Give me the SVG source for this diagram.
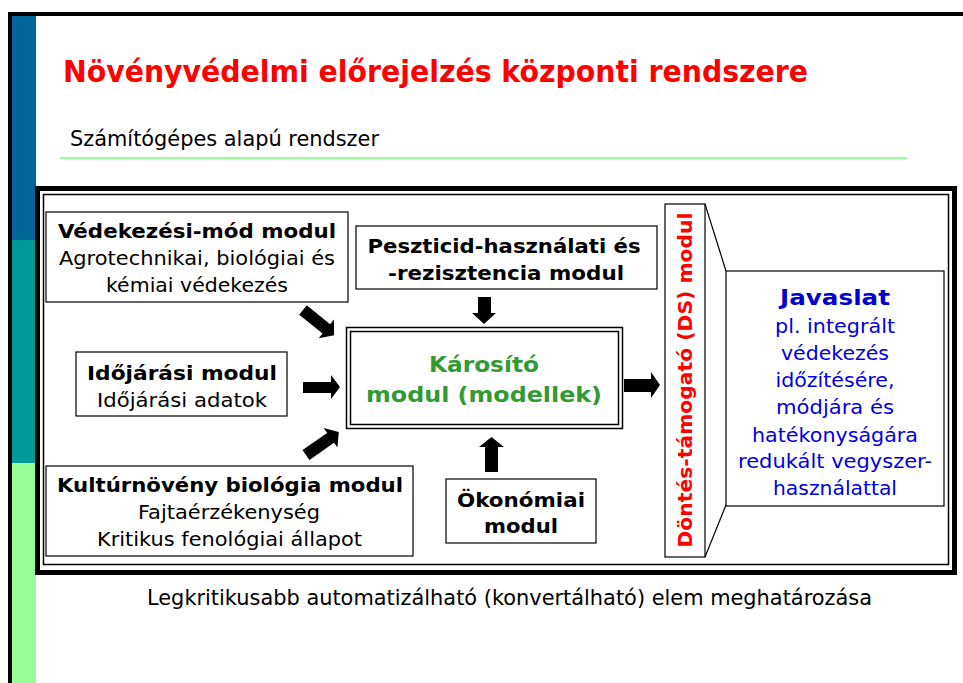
<svg xmlns="http://www.w3.org/2000/svg" width="963" height="683" viewBox="0 0 963 683">
<style>
text{font-family:"DejaVu Sans","Verdana",sans-serif;}
.b{font-weight:bold;}
.bx{fill:#fff;stroke:#000;stroke-width:1.2;}
.t{font-size:19px;fill:#000;text-anchor:middle;}
.jv{font-size:19px;fill:#0000DD;text-anchor:middle;}
.ar{fill:#000;}
</style>
<rect x="0" y="0" width="963" height="683" fill="#fff"/>
<!-- slide frame -->
<rect x="8" y="12" width="955" height="4" fill="#000"/>
<rect x="8" y="12" width="4" height="671" fill="#000"/>
<rect x="12" y="16" width="24" height="224" fill="#006699"/>
<rect x="12" y="240" width="24" height="223" fill="#009999"/>
<rect x="12" y="463" width="24" height="220" fill="#99FF99"/>
<text x="63" y="82" font-size="30" class="b" fill="#FF0000" textLength="745" lengthAdjust="spacingAndGlyphs">Növényvédelmi előrejelzés központi rendszere</text>
<text x="70" y="146" font-size="21" fill="#000" textLength="309" lengthAdjust="spacingAndGlyphs">Számítógépes alapú rendszer</text>
<rect x="60" y="157" width="847" height="2" fill="#99FF99"/>
<!-- main frame -->
<rect x="37.5" y="188.5" width="917" height="384" fill="#fff" stroke="#000" stroke-width="5"/>
<rect x="43.5" y="194.5" width="905" height="370" fill="none" stroke="#000" stroke-width="1.5"/>

<g id="vedekezesi">
<rect class="bx" x="46" y="212" width="302" height="90"/>
<text class="t b" x="197" y="238" textLength="278" lengthAdjust="spacingAndGlyphs">Védekezési-mód modul</text>
<text class="t" x="197" y="265" textLength="276" lengthAdjust="spacingAndGlyphs">Agrotechnikai, biológiai és</text>
<text class="t" x="197" y="292" textLength="182" lengthAdjust="spacingAndGlyphs">kémiai védekezés</text>
</g>
<g id="peszticid">
<rect class="bx" x="356" y="226" width="301" height="63"/>
<text class="t b" x="504" y="253" textLength="273" lengthAdjust="spacingAndGlyphs">Peszticid-használati és</text>
<text class="t b" x="506" y="280" textLength="236" lengthAdjust="spacingAndGlyphs">-rezisztencia modul</text>
</g>
<g id="idojarasi">
<rect class="bx" x="76" y="352" width="211" height="64"/>
<text class="t b" x="182" y="380" textLength="190" lengthAdjust="spacingAndGlyphs">Időjárási modul</text>
<text class="t" x="182" y="407" textLength="170" lengthAdjust="spacingAndGlyphs">Időjárási adatok</text>
</g>
<g id="kulturnoveny">
<rect class="bx" x="46" y="466" width="367" height="90"/>
<text class="t b" x="230" y="492" textLength="346" lengthAdjust="spacingAndGlyphs">Kultúrnövény biológia modul</text>
<text class="t" x="229" y="519" textLength="182" lengthAdjust="spacingAndGlyphs">Fajtaérzékenység</text>
<text class="t" x="229.5" y="546" textLength="265" lengthAdjust="spacingAndGlyphs">Kritikus fenológiai állapot</text>
</g>
<g id="okonomiai">
<rect class="bx" x="446" y="479" width="150" height="64"/>
<text class="t b" x="521" y="507" textLength="128" lengthAdjust="spacingAndGlyphs">Ökonómiai</text>
<text class="t b" x="521" y="533" textLength="74" lengthAdjust="spacingAndGlyphs">modul</text>
</g>
<g id="karosito">
<rect x="346.5" y="327.5" width="276" height="101" fill="#fff" stroke="#000" stroke-width="1.5"/>
<rect x="350.5" y="331.5" width="268" height="93" fill="none" stroke="#000" stroke-width="1.5"/>
<text x="484" y="372" font-size="22" class="b" fill="#339933" text-anchor="middle" textLength="110" lengthAdjust="spacingAndGlyphs">Károsító</text>
<text x="484" y="402" font-size="22" class="b" fill="#339933" text-anchor="middle" textLength="236" lengthAdjust="spacingAndGlyphs">modul (modellek)</text>
</g>
<g id="ds">
<rect class="bx" x="665" y="204" width="40" height="353"/>
<text transform="translate(692,380) rotate(-90)" font-size="20" class="b" fill="#FF0000" text-anchor="middle" textLength="335" lengthAdjust="spacingAndGlyphs">Döntés-támogató (DS) modul</text>
</g>
<g id="javaslat">
<rect class="bx" x="726" y="271" width="218" height="235"/>
<line x1="705" y1="204" x2="726" y2="271" stroke="#000" stroke-width="1.2"/>
<line x1="705" y1="557" x2="726" y2="505" stroke="#000" stroke-width="1.2"/>
<text x="835" y="305" font-size="21" class="b" fill="#0000CC" text-anchor="middle" textLength="110" lengthAdjust="spacingAndGlyphs">Javaslat</text>
<text class="jv" x="835" y="333" textLength="120" lengthAdjust="spacingAndGlyphs">pl. integrált</text>
<text class="jv" x="835" y="360" textLength="108" lengthAdjust="spacingAndGlyphs">védekezés</text>
<text class="jv" x="835" y="387" textLength="119" lengthAdjust="spacingAndGlyphs">időzítésére,</text>
<text class="jv" x="835" y="414" textLength="118" lengthAdjust="spacingAndGlyphs">módjára és</text>
<text class="jv" x="835" y="442" textLength="166" lengthAdjust="spacingAndGlyphs">hatékonyságára</text>
<text class="jv" x="835" y="468" textLength="194" lengthAdjust="spacingAndGlyphs">redukált vegyszer-</text>
<text class="jv" x="835" y="495" textLength="124" lengthAdjust="spacingAndGlyphs">használattal</text>
</g>
<g id="connectors">
<path class="ar" transform="translate(303,310) rotate(39)" d="M0,-6 L30,-6 L30,-12 L40,0 L30,12 L30,6 L0,6 Z"/>
<path class="ar" d="M303,382 L331,382 L331,375 L340,387 L331,399 L331,393 L303,393 Z"/>
<path class="ar" transform="translate(306,455) rotate(-35)" d="M0,-6 L30,-6 L30,-12 L40,0 L30,12 L30,6 L0,6 Z"/>
<path class="ar" d="M478,297 L491,297 L491,313 L496,313 L484,324 L472,313 L478,313 Z"/>
<path class="ar" d="M485,472 L498,472 L498,447 L504,447 L491.5,437 L479,447 L485,447 Z"/>
<path class="ar" d="M624,379 L651,379 L651,372 L660,385 L651,398 L651,392 L624,392 Z"/>
</g>
<text x="147" y="605" font-size="21" fill="#000" textLength="725" lengthAdjust="spacingAndGlyphs">Legkritikusabb automatizálható (konvertálható) elem meghatározása</text>
</svg>
